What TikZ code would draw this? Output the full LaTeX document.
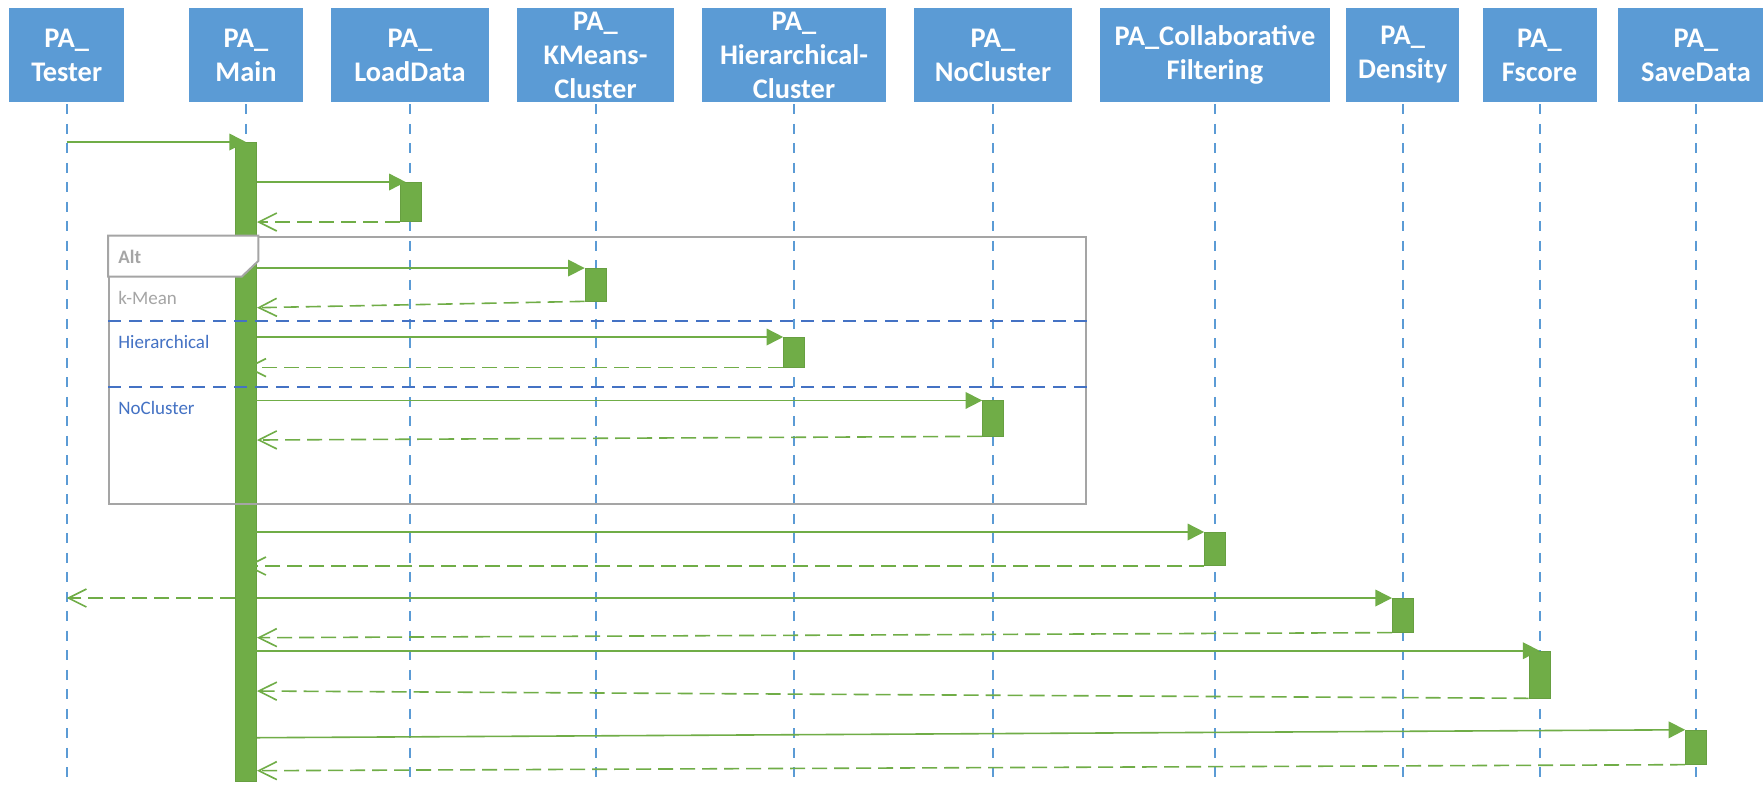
\documentclass[tikz,border=0pt]{standalone}
\usepackage{fontspec}
\setmainfont{Carlito}
\usetikzlibrary{arrows.meta}

\definecolor{hblue}{HTML}{5B9BD5}
\definecolor{lgreen}{HTML}{70AD47}
\definecolor{fgrey}{HTML}{A5A5A5}
\definecolor{sblue}{HTML}{4472C4}

\tikzset{
  head/.style={fill=hblue, text=white, inner sep=0pt, align=center,
    minimum height=47pt, font=\bfseries\fontsize{14.2}{17}\selectfont},
  life/.style={draw=hblue, line width=1pt, dash pattern=on 5pt off 4.75pt},
  actbar/.style={fill=lgreen, draw=lgreen!92!black, line width=0.3pt,
    minimum width=10.5pt, inner sep=0pt},
  call/.style={draw=lgreen, line width=0.8pt, -{Triangle[length=8.3pt,width=8.3pt]}},
  reply/.style={draw=lgreen, line width=0.8pt, dash pattern=on 7.5pt off 3.5pt,
    -{Straight Barb[length=9pt,width=9pt]}},
  altframe/.style={draw=fgrey, line width=1pt, inner sep=0pt, anchor=north west},
  sep/.style={draw=sblue, line width=0.8pt, dash pattern=on 6.7pt off 3.8pt},
  guard/.style={anchor=west, inner sep=0pt, font=\fontsize{9.5}{11}\selectfont}
}

\begin{document}
\begin{tikzpicture}[x=0.5pt, y=-0.5pt]
  \useasboundingbox (0,0) rectangle (1763,784);
  \fill[white] (0,0) rectangle (1763,784);
  \clip (0,0) rectangle (1763,784);

  % participants
  \node[head, minimum width=57.5pt] (t)   at (66.7,55)  {PA\_\\Tester};
  \node[head, minimum width=57pt]   (m)   at (246,55)   {PA\_\\Main};
  \node[head, minimum width=79pt]   (ld)  at (410,55)   {PA\_\\LoadData};
  \node[head, minimum width=78.5pt] (km)  at (595.5,55) {PA\_\\KMeans-\\Cluster};
  \node[head, minimum width=92pt]   (hc)  at (794,55)   {PA\_\\Hierarchical-\\Cluster};
  \node[head, minimum width=79pt]   (nc)  at (993,55)   {PA\_\\NoCluster};
  \node[head, minimum width=115pt]  (cf)  at (1215,55)  {PA\_Collaborative\\Filtering};
  \node[head, minimum width=56.5pt] (den) at (1402.7,55){PA\_\\Density};
  \node[head, minimum width=57pt]   (fs)  at (1539.5,55){PA\_\\Fscore};
  \node[head, minimum width=78pt]   (sd)  at (1696,55)  {PA\_\\SaveData};

  % lifelines
  \foreach \p in {t,m,ld,km,hc,nc,cf,den,fs,sd}
    \draw[life] ([yshift=-1pt]\p.south) -- (\p.south |- 0,784);

  % activation bars
  \node[actbar, minimum height=319.7pt] (mb)   at (246.2,462)   {};
  \node[actbar, minimum height=19.7pt]  (ldb)  at (410.5,202)   {};
  \node[actbar, minimum height=16.35pt] (kmb)  at (595.5,284.7) {};
  \node[actbar, minimum height=15pt]    (hcb)  at (794,352.3)   {};
  \node[actbar, minimum height=17.65pt] (ncb)  at (993,418.4)   {};
  \node[actbar, minimum height=16.7pt]  (cfb)  at (1215,549)    {};
  \node[actbar, minimum height=17pt]    (denb) at (1402.8,615.3){};
  \node[actbar, minimum height=23.5pt]  (fsb)  at (1539.5,674.5){};
  \node[actbar, minimum height=17.15pt] (sdb)  at (1696,747.2)  {};

  % alt combined fragment
  \node[altframe, minimum width=488.5pt, minimum height=133.5pt] (alt) at (108,235.7) {};
  \draw[fgrey, line width=1pt, fill=white]
    (alt.north west) -- (258.3,235.7) -- (258.3,261) -- (241.7,276.7)
    -- (alt.west |- 0,276.7) -- cycle;
  \draw[sep] (alt.west |- 0,320.7) -- (alt.east |- 0,320.7);
  \draw[sep] (alt.west |- 0,386.7) -- (alt.east |- 0,386.7);
  \node[guard, text=fgrey, font=\bfseries\fontsize{9.5}{11}\selectfont] (altlbl) at (118,256.7) {Alt};
  \node[guard, text=fgrey] (g1) at (118,298.3) {k-Mean};
  \node[guard, text=sblue] (g2) at (118,341.7) {Hierarchical};
  \node[guard, text=sblue] (g3) at (118,407.7) {NoCluster};

  % messages
  \draw[call]  (t |- mb.north) -- (m |- mb.north);
  \draw[call]  (mb.east |- ldb.north) -- ([xshift=3pt]ldb.north west);
  \draw[reply] (ldb.south west) -- (mb.east |- ldb.south);

  \draw[call]  (mb.east |- kmb.north) -- (kmb.north west);
  \draw[reply] (kmb.south west) -- (mb.east |- 0,307.7);

  \draw[call]  (mb.east |- hcb.north) -- (hcb.north west);
  \draw[reply] (hcb.south west) -- (mb |- hcb.south);

  \draw[call]  (mb |- ncb.north) -- (ncb.north west);
  \draw[reply] (ncb.south west) -- (mb.east |- 0,440);

  \draw[call]  (mb |- cfb.north) -- (cfb.north west);
  \draw[reply] (cfb.south west) -- (mb |- cfb.south);

  \draw[reply] (mb.west |- denb.north) -- (t |- denb.north);
  \draw[call]  (mb.east |- denb.north) -- (denb.north west);
  \draw[reply] (denb.south west) -- (mb.east |- 0,637.7);

  \draw[call]  (mb |- fsb.north) -- (fsb.north);
  \draw[reply] (fsb.south west) -- (mb.east |- 0,691);

  \draw[call]  (mb.east |- 0,737.7) -- (sdb.north west);
  \draw[reply] (sdb.south west) -- (mb.east |- 0,770.7);
\end{tikzpicture}
\end{document}
